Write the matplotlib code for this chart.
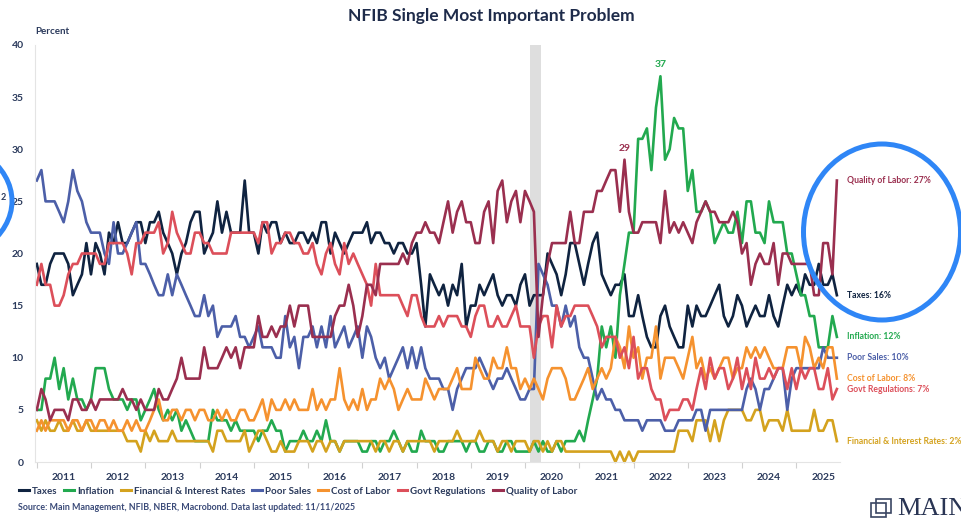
import numpy as np
import pandas as pd
import matplotlib
matplotlib.use("Agg")
import matplotlib.pyplot as plt
import matplotlib.dates as mdates
from matplotlib.patches import Ellipse, Rectangle
from matplotlib.transforms import blended_transform_factory

plt.rcParams['font.family'] = ['Lato', 'DejaVu Sans']

# monthly survey values, Jan 2011 .. Oct 2025 (percent)
taxes = [19, 17, 17, 19, 20, 20, 20, 19, 16, 17, 18, 21,
         18, 21, 20, 18, 22, 21, 23, 21, 21, 22, 23, 23,
         21, 23, 23, 24, 22, 21, 20, 18, 20, 21, 23, 24,
         24, 20, 21, 22, 25, 22, 24, 22, 22, 22, 27, 22,
         22, 20, 23, 22, 23, 23, 21, 22, 21, 21, 22, 22,
         21, 22, 21, 23, 23, 20, 22, 21, 20, 21, 22, 22,
         22, 23, 21, 22, 22, 21, 21, 20, 21, 21, 20, 20,
         21, 17, 13, 18, 17, 16, 17, 15, 17, 16, 19, 13,
         15, 15, 17, 16, 17, 18, 16, 15, 16, 16, 15, 17,
         18, 15, 16, 16, 16, 20, 19, 18, 16, 18, 21, 21,
         19, 17, 19, 21, 22, 18, 17, 16, 17, 17, 18, 14,
         14, 16, 14, 12, 11, 11, 14, 15, 13, 12, 11, 11,
         15, 13, 15, 14, 14, 15, 16, 17, 14, 13, 14, 16,
         15, 13, 14, 15, 14, 14, 16, 14, 13, 15, 17, 16,
         17, 16, 18, 17, 17, 19, 17, 17, 18, 16]

inflation = [5, 5, 8, 8, 10, 7, 9, 6, 8, 6, 6, 5,
             6, 9, 9, 9, 7, 6, 6, 6, 5, 6, 6, 4,
             5, 6, 7, 5, 4, 5, 4, 5, 3, 4, 3, 2,
             2, 2, 2, 5, 4, 4, 4, 3, 4, 3, 3, 3,
             3, 2, 3, 3, 4, 3, 3, 1, 2, 2, 2, 3,
             2, 2, 3, 2, 4, 2, 2, 1, 2, 2, 2, 2,
             1, 1, 2, 2, 1, 2, 2, 3, 2, 1, 2, 1,
             1, 3, 2, 2, 2, 1, 1, 2, 2, 2, 2, 1,
             2, 2, 1, 1, 2, 2, 1, 1, 2, 2, 1, 1,
             1, 1, 2, 1, 2, 1, 1, 2, 1, 2, 2, 2,
             3, 2, 4, 6, 8, 13, 11, 13, 10, 16, 19, 22,
             22, 31, 31, 32, 28, 34, 37, 29, 30, 33, 32, 32,
             26, 28, 24, 24, 25, 24, 21, 22, 23, 22, 22, 24,
             21, 25, 25, 22, 22, 21, 25, 23, 23, 23, 20, 20,
             18, 16, 16, 14, 14, 11, 11, 11, 14, 12]

financial = [4, 3, 4, 3, 3, 4, 3, 3, 4, 3, 3, 4,
             3, 3, 3, 3, 3, 3, 3, 3, 2, 2, 2, 1,
             3, 2, 3, 2, 2, 2, 3, 2, 2, 2, 2, 2,
             2, 2, 2, 1, 3, 3, 2, 2, 2, 2, 3, 1,
             2, 3, 3, 2, 1, 1, 2, 1, 1, 1, 2, 2,
             2, 1, 2, 2, 1, 2, 2, 1, 2, 2, 2, 2,
             2, 2, 2, 1, 2, 2, 1, 2, 2, 1, 2, 2,
             2, 2, 2, 2, 1, 2, 2, 2, 2, 3, 2, 2,
             2, 2, 3, 2, 2, 2, 1, 2, 2, 1, 2, 2,
             2, 1, 2, 2, 1, 2, 1, 2, 2, 1, 1, 1,
             1, 1, 1, 1, 1, 1, 1, 1, 0, 1, 0, 1,
             0, 1, 1, 1, 1, 1, 1, 1, 1, 1, 3, 3,
             3, 2, 4, 4, 4, 2, 4, 2, 4, 5, 5, 5,
             5, 4, 4, 5, 5, 3, 4, 4, 4, 3, 5, 3,
             3, 3, 3, 3, 5, 3, 3, 4, 4, 2]

poor_sales = [27, 28, 25, 25, 25, 24, 23, 25, 28, 26, 25, 23,
              22, 22, 22, 20, 19, 23, 20, 20, 21, 22, 23, 19,
              19, 18, 17, 16, 16, 18, 16, 18, 17, 16, 15, 14,
              14, 16, 14, 15, 12, 13, 13, 13, 14, 12, 12, 11,
              12, 13, 11, 11, 11, 10, 10, 14, 11, 12, 9, 12,
              12, 13, 11, 13, 11, 14, 11, 12, 13, 11, 12, 13,
              10, 13, 12, 10, 9, 10, 8, 9, 10, 11, 9, 11,
              9, 11, 9, 8, 8, 8, 7, 7, 5, 7, 8, 9,
              9, 9, 10, 9, 8, 7, 8, 8, 9, 8, 7, 6,
              6, 7, 7, 19, 18, 17, 15, 15, 13, 15, 13, 14,
              11, 10, 10, 8, 6, 7, 6, 6, 5, 5, 4, 4,
              4, 4, 3, 4, 4, 4, 4, 3, 3, 3, 4, 4,
              4, 4, 5, 5, 3, 5, 5, 5, 5, 5, 5, 5,
              5, 7, 8, 7, 5, 7, 7, 8, 9, 9, 5, 8,
              9, 9, 9, 9, 9, 9, 11, 10, 10, 10]

cost_of_labor = [3, 4, 3, 4, 4, 4, 4, 3, 4, 4, 3, 4,
                 4, 3, 4, 4, 3, 4, 3, 3, 4, 3, 4, 3,
                 3, 4, 5, 6, 4, 4, 5, 5, 4, 5, 5, 4,
                 5, 5, 4, 4, 5, 4, 5, 4, 4, 5, 5, 4,
                 4, 5, 6, 4, 6, 5, 5, 6, 5, 6, 5, 5,
                 5, 7, 5, 6, 5, 6, 6, 9, 6, 5, 6, 5,
                 7, 5, 6, 6, 8, 7, 8, 7, 5, 6, 7, 6,
                 6, 6, 8, 7, 6, 7, 7, 7, 8, 9, 7, 7,
                 7, 10, 9, 8, 8, 10, 9, 9, 11, 9, 9, 7,
                 8, 7, 8, 7, 6, 8, 9, 9, 9, 8, 6, 6,
                 7, 8, 9, 7, 8, 9, 8, 9, 12, 11, 9, 13,
                 10, 11, 8, 10, 10, 13, 8, 10, 10, 10, 9, 8,
                 10, 12, 9, 10, 8, 9, 8, 9, 10, 10, 8, 9,
                 9, 11, 10, 11, 10, 11, 10, 9, 9, 9, 11, 11,
                 11, 9, 12, 11, 9, 10, 9, 11, 11, 8]

govt_regs = [17, 19, 17, 17, 15, 15, 16, 18, 19, 19, 20, 20,
             20, 20, 19, 19, 21, 21, 21, 21, 20, 18, 21, 21,
             22, 22, 22, 23, 20, 21, 24, 22, 21, 20, 20, 22,
             22, 21, 21, 20, 20, 20, 20, 22, 22, 22, 22, 22,
             22, 21, 23, 23, 20, 21, 21, 22, 22, 21, 21, 20,
             20, 21, 19, 18, 20, 21, 19, 18, 21, 19, 20, 19,
             18, 17, 15, 19, 16, 16, 16, 16, 16, 15, 14, 16,
             16, 14, 13, 13, 13, 14, 13, 14, 14, 14, 13, 13,
             12, 14, 15, 15, 13, 13, 14, 13, 13, 14, 15, 13,
             13, 13, 10, 13, 14, 14, 11, 15, 13, 14, 14, 15,
             15, 15, 15, 14, 13, 11, 12, 12, 12, 10, 11, 9,
             12, 8, 9, 9, 7, 6, 6, 4, 5, 5, 5, 6,
             6, 5, 7, 9, 7, 10, 8, 9, 9, 7, 8, 10,
             7, 9, 7, 10, 8, 8, 9, 8, 9, 9, 7, 9,
             7, 9, 8, 9, 9, 7, 7, 9, 6, 7]

quality_labor = [5, 7, 6, 4, 5, 5, 5, 4, 6, 6, 5, 5,
                 6, 5, 6, 6, 6, 6, 6, 7, 6, 6, 5, 6,
                 5, 5, 5, 7, 6, 6, 7, 8, 10, 8, 8, 8,
                 8, 11, 9, 9, 9, 10, 11, 10, 11, 9, 11, 11,
                 11, 14, 12, 12, 13, 12, 13, 13, 15, 13, 15, 15,
                 15, 12, 12, 12, 12, 12, 14, 15, 15, 17, 15, 12,
                 14, 17, 17, 16, 19, 19, 19, 19, 19, 20, 19, 21,
                 22, 22, 23, 22, 22, 21, 23, 25, 22, 24, 25, 23,
                 23, 21, 21, 24, 25, 21, 26, 27, 23, 25, 26, 23,
                 26, 25, 24, 12, 16, 19, 21, 21, 21, 21, 24, 21,
                 21, 24, 24, 24, 26, 26, 27, 28, 28, 24, 29, 24,
                 22, 22, 23, 23, 23, 23, 21, 26, 22, 23, 22, 23,
                 22, 21, 23, 24, 25, 24, 24, 23, 23, 23, 24, 23,
                 20, 21, 17, 19, 20, 19, 19, 21, 17, 20, 20, 19,
                 19, 19, 19, 19, 16, 16, 21, 21, 18, 27]

names = ["Taxes", "Inflation", "Financial & Interest Rates", "Poor Sales",
         "Cost of Labor", "Govt Regulations", "Quality of Labor"]
colors = ["#0f2340", "#22a94f", "#d4a21e", "#4c5fa8", "#f5922f", "#dc4f5a", "#9a2f4f"]

dates = pd.date_range("2011-01-01", periods=len(taxes), freq="MS")
series = [taxes, inflation, financial, poor_sales, cost_of_labor, govt_regs, quality_labor]

navy = "#1e2b4a"
W, H = 961, 519
fig = plt.figure(figsize=(W / 100, H / 100), dpi=100)
ax = fig.add_axes([35 / W, 1 - 462 / H, (840 - 35) / W, (462 - 45) / H])

# recession band
ax.axvspan(pd.Timestamp("2020-02-01"), pd.Timestamp("2020-04-20"), color="#dedede", lw=0, zorder=0)

for vals, nm, c in zip(series, names, colors):
    ax.plot(dates, vals, color=c, lw=1.9, label=nm, clip_on=False, zorder=2)

ax.set_ylim(0, 40)
ax.set_xlim(pd.Timestamp("2010-12-20"), pd.Timestamp("2025-10-22"))
ax.set_yticks(range(0, 41, 5))
for lab in ax.get_yticklabels():
    lab.set_fontweight("bold")
ax.tick_params(axis="y", length=0, pad=8, labelsize=7.5, labelcolor="#2b3a5c")

ax.xaxis.set_major_locator(mdates.YearLocator(month=7, day=1))
ax.xaxis.set_major_formatter(mdates.DateFormatter("%Y"))
ax.xaxis.set_minor_locator(mdates.YearLocator(month=1, day=1))
ax.tick_params(axis="x", which="major", length=0, pad=8, labelsize=7.5, labelcolor="#2b3a5c")
ax.tick_params(axis="x", which="minor", length=4, color="#d0d0d0", width=0.8)
for lab in ax.get_xticklabels():
    lab.set_fontweight("bold")

for s in ["top", "right"]:
    ax.spines[s].set_visible(False)
ax.spines["left"].set_color("#e4e4e4")
ax.spines["bottom"].set_color("#e4e4e4")

# peak labels
i37 = int(np.argmax(inflation))
ax.annotate(str(inflation[i37]), (dates[i37], inflation[i37]), xytext=(0, 5),
            textcoords="offset points", ha="center", va="bottom",
            color=colors[1], fontsize=7.5, fontweight="bold")
i29 = int(np.argmax(quality_labor))
ax.annotate(str(quality_labor[i29]), (dates[i29], quality_labor[i29]), xytext=(0, 5),
            textcoords="offset points", ha="center", va="bottom",
            color=colors[6], fontsize=7.5, fontweight="bold")

# end labels
tr = blended_transform_factory(ax.transAxes, ax.transData)
for vals, nm, c in zip(series, names, colors):
    ax.text(1.009, vals[-1], f"{nm}: {vals[-1]}%", transform=tr, color=c,
            fontsize=6.2, fontweight="bold", va="center", ha="left", clip_on=False)

fig.text(491 / W, 1 - 16 / H, "NFIB Single Most Important Problem", ha="center", va="center",
         fontsize=12.5, fontweight="bold", color=navy)
fig.text(35 / W, 1 - 32 / H, "Percent", ha="left", va="center", fontsize=7,
         fontweight="bold", color="#2b3a5c")

leg = fig.legend(loc="center left", bbox_to_anchor=(15 / W, 1 - 491 / H), ncol=7,
                 frameon=False, handlelength=1.0, handletextpad=0.3, columnspacing=0.75,
                 prop={"size": 7.0, "weight": "bold"}, labelcolor="#2b3a5c", borderaxespad=0)
for h in leg.get_lines():
    h.set_linewidth(2.2)

fig.text(18 / W, 1 - 508 / H,
         "Source: Main Management, NFIB, NBER, Macrobond. Data last updated: 11/11/2025",
         ha="left", va="center", fontsize=6.4, fontweight="bold", color="#3a4a78")

# logo
fig.patches.append(Rectangle((871 / W, 1 - 517 / H), 15 / W, 14 / H, transform=fig.transFigure,
                             fill=False, ec="#3a4562", lw=1.2))
fig.patches.append(Rectangle((876 / W, 1 - 513 / H), 15 / W, 14 / H, transform=fig.transFigure,
                             fill=False, ec="#3a4562", lw=1.2))
fig.text(897 / W, 1 - 515 / H, "MAIN", ha="left", va="baseline", fontsize=19,
         family="Liberation Serif", color="#2a3554")

# blue highlight circles
fig.patches.append(Ellipse((882 / W, 1 - 232 / H), 157 / W, 176 / H, transform=fig.transFigure,
                           fill=False, ec="#2f86f6", lw=3.6))
fig.patches.append(Ellipse((-78 / W, 1 - 201 / H), 180 / W, 130 / H, transform=fig.transFigure,
                           fill=False, ec="#2f86f6", lw=3.6))
fig.text(1 / W, 1 - 197 / H, "2", ha="left", va="center", fontsize=6.5,
         fontweight="bold", color="#2b3a5c")

fig.savefig("out.png", dpi=100)
